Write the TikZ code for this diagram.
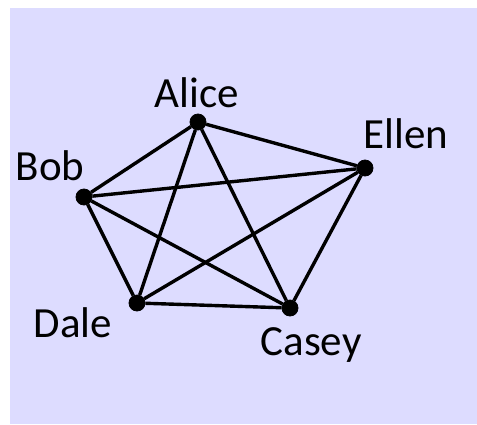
\documentclass[tikz,border=0pt]{standalone}
\usepackage{fontspec}
\setmainfont{Carlito}
\usepackage{tikz}
\usetikzlibrary{positioning}
\usetikzlibrary{backgrounds}
\definecolor{lightLavender}{HTML}{dddcff}

\begin{document}
\begin{tikzpicture}[x=0.5pt, y=-0.5pt, inner sep=0.0 pt]
    \tikzset{person/.style={draw, circle, fill=black, minimum size=8pt},
             who/.style={font=\fontsize{21.5}{26}\selectfont, anchor=base},
             tie/.style={line width=1.7pt}}

    \useasboundingbox (0,0) rectangle (477,424);

    \node (alice) [person] at (198,122) {};
    \node (ellen) [person] at (365,168) {};
    \node (bob) [person] at (84,197) {};
    \node (dale) [person] at (137,303) {};
    \node (casey) [person] at (290,308) {};

    \node (alice_name) [who] at (197,107) {Alice};
    \node (ellen_name) [who] at (406,148) {Ellen};
    \node (bob_name) [who] at (50,180) {Bob};
    \node (dale_name) [who] at (73,337) {Dale};
    \node (casey_name) [who] at (311,355) {Casey};

    \draw [tie] (alice) -- (ellen);
    \draw [tie] (alice) -- (bob);
    \draw [tie] (alice) -- (dale);
    \draw [tie] (alice) -- (casey);
    \draw [tie] (ellen) -- (bob);
    \draw [tie] (ellen) -- (dale);
    \draw [tie] (ellen) -- (casey);
    \draw [tie] (bob) -- (dale);
    \draw [tie] (bob) -- (casey);
    \draw [tie] (dale) -- (casey);

    \begin{pgfonlayer}{background}
        \fill [lightLavender] (10,8) rectangle (477,424);
    \end{pgfonlayer}
\end{tikzpicture}
\end{document}
